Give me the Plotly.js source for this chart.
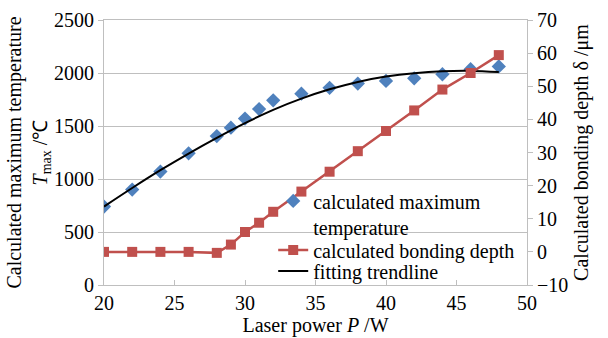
<!DOCTYPE html>
<html>
<head>
<meta charset="utf-8">
<script src="https://cdn.plot.ly/plotly-3.0.1.min.js"></script>
<style>html,body{margin:0;padding:0;background:#fff;}#chart{width:608px;height:338px;}</style>
</head>
<body>
<div id="chart"></div>
<script>
// Blue diamonds: calculated maximum temperature (left axis, °C)
const tempPower = [20, 22, 24, 26, 28, 29, 30, 31, 32, 34, 36, 38, 40, 42, 44, 46, 48];
const tempValues = [740, 900, 1070, 1242, 1405, 1484, 1570, 1660, 1742, 1805, 1860, 1900, 1925, 1950, 1988, 2036, 2062];

// Red squares: calculated bonding depth (right axis, μm)
const depthPower = [20, 22, 24, 26, 28, 29, 30, 31, 32, 34, 36, 38, 40, 42, 44, 46, 48];
const depthValues = [0, 0, 0, 0, -0.3, 2.2, 6.0, 8.8, 12.1, 18.2, 24.2, 30.4, 36.5, 42.7, 49.0, 54.0, 59.4];

// Black fitting trendline
const trendPower = [20, 22, 24, 26, 28, 30, 32, 34, 36, 38, 40, 42, 44, 46, 48];
const trendValues = [740, 915, 1083, 1240, 1388, 1527, 1652, 1758, 1846, 1916, 1966, 1998, 2016, 2020, 2010];

const FONT = "'Liberation Serif', 'Times New Roman', serif";
const FS = 20;
const AX = "#bfbfbf";

const traces = [
  {x: tempPower, y: tempValues, name: "calculated maximum<br>temperature", type: "scatter", mode: "markers",
   marker: {symbol: "diamond", size: 11, color: "#4f81bd"}, yaxis: "y", legend: "legend"},
  {x: depthPower, y: depthValues, name: "calculated bonding depth", type: "scatter", mode: "lines+markers",
   line: {color: "#c0504d", width: 2.5}, marker: {symbol: "square", size: 10, color: "#c0504d"}, yaxis: "y2", legend: "legend2"},
  {x: trendPower, y: trendValues, name: "fitting trendline", type: "scatter", mode: "lines",
   line: {color: "#000000", width: 2, shape: "spline"}, yaxis: "y", legend: "legend3"}
];

function leg(y) {
  return {x: 0.40, y: y, xanchor: "left", yanchor: "top", bgcolor: "rgba(0,0,0,0)", valign: "top",
          font: {family: FONT, size: FS}, tracegroupgap: 0};
}

const layout = {
  width: 608, height: 338,
  margin: {l: 104, r: 81, t: 20, b: 53},
  paper_bgcolor: "#ffffff", plot_bgcolor: "#ffffff",
  font: {family: FONT, size: FS, color: "#000"},
  showlegend: true,
  legend: leg(0.391),
  legend2: leg(0.2058),
  legend3: leg(0.1267),
  xaxis: {range: [20, 50], dtick: 5, tick0: 20, showgrid: false, zeroline: false,
          showline: true, linecolor: AX, linewidth: 1, mirror: true,
          ticks: "inside", ticklen: 5, tickcolor: AX,
          tickfont: {family: FONT, size: FS},
          title: {text: "Laser power <i>P</i> /W", font: {family: FONT, size: FS}, standoff: 2}},
  yaxis: {range: [0, 2500], dtick: 500, tick0: 0, showgrid: true, gridcolor: AX, gridwidth: 1, zeroline: false,
          showline: true, linecolor: AX, linewidth: 1,
          ticks: "outside", ticklen: 5, tickcolor: AX,
          tickfont: {family: FONT, size: FS},
          title: {text: "Calculated maximum temperature<br><i>T</i><sub>max</sub> /℃", font: {family: FONT, size: FS}, standoff: 0}},
  yaxis2: {range: [-10, 70], dtick: 10, tick0: 0, overlaying: "y", side: "right", showgrid: false, zeroline: false,
           showline: true, linecolor: AX, linewidth: 1,
           ticks: "outside", ticklen: 5, tickcolor: AX,
           tickfont: {family: FONT, size: FS},
           title: {text: "Calculated bonding depth δ /μm", font: {family: FONT, size: FS}, standoff: 6}}
};

Plotly.newPlot("chart", traces, layout, {displayModeBar: false, staticPlot: true});
</script>
</body>
</html>
